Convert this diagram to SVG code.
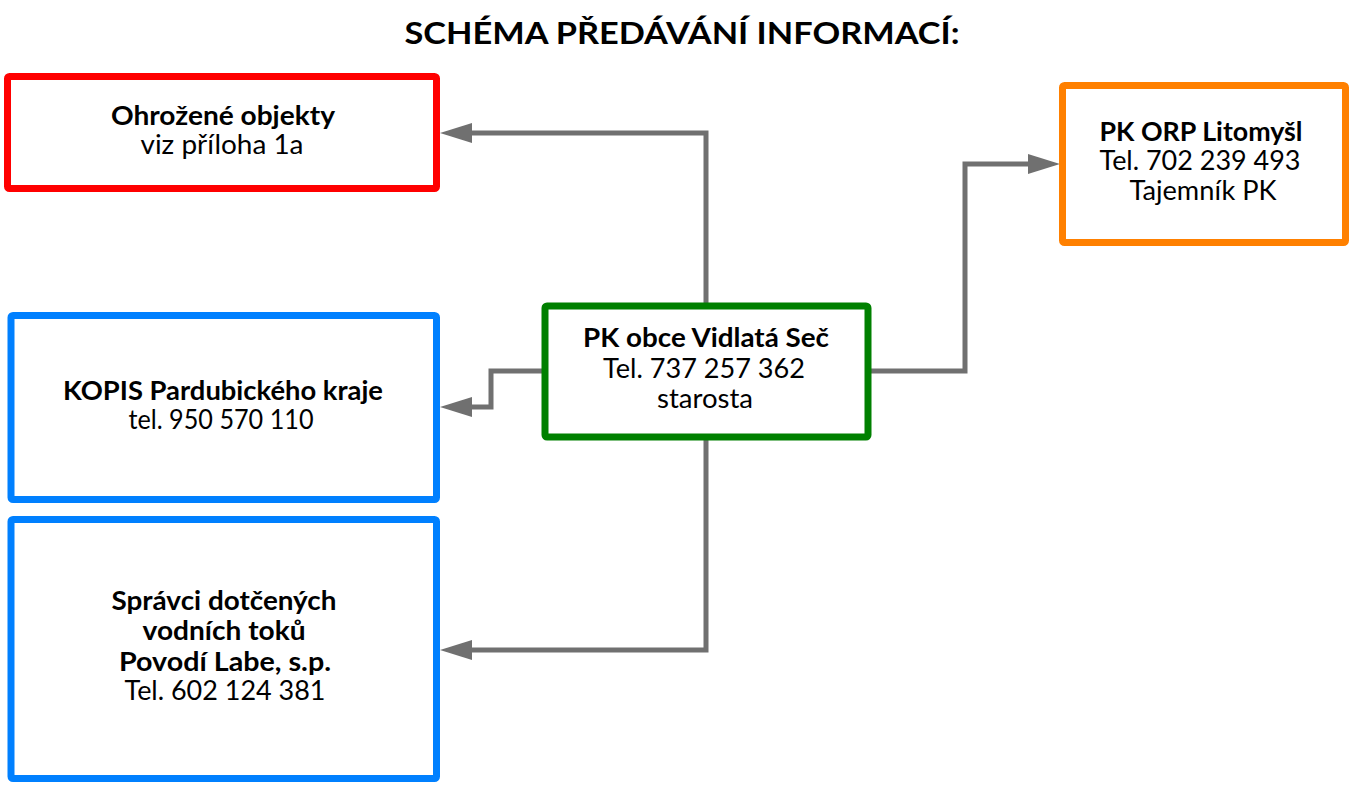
<svg xmlns="http://www.w3.org/2000/svg" width="1360" height="787" viewBox="0 0 1360 787">
<style>
.box{fill:#ffffff;stroke-width:7;stroke-linejoin:round}
.t{font-family:Lato,"Liberation Sans",sans-serif;font-size:26px;fill:#000000;text-anchor:middle}
.b{font-weight:bold}
.title{font-family:Lato,"Liberation Sans",sans-serif;font-size:31px;font-weight:bold;fill:#000000;text-anchor:middle}
.c{fill:none;stroke:#707070;stroke-width:5;stroke-linejoin:miter}
</style>
<defs>
<marker id="arr" viewBox="0 0 32 20" refX="4" refY="10" markerWidth="32" markerHeight="20" markerUnits="userSpaceOnUse" orient="auto">
<path d="M0,0 L32,10 L0,20 z" fill="#707070"/>
</marker>
</defs>
<rect width="1360" height="787" fill="#ffffff"/>
<text class="title" x="682" y="44" textLength="555" lengthAdjust="spacingAndGlyphs">SCHÉMA PŘEDÁVÁNÍ INFORMACÍ:</text>
<g id="connectors">
<path class="c" d="M706,303 V133 H468" marker-end="url(#arr)"/>
<path class="c" d="M542,371 H491 V407 H468" marker-end="url(#arr)"/>
<path class="c" d="M871,371 H965 V164 H1032" marker-end="url(#arr)"/>
<path class="c" d="M706,440 V650 H468" marker-end="url(#arr)"/>
</g>
<g id="ohrozene">
<rect class="box" x="7.5" y="76.5" width="429" height="112" rx="2" stroke="#ff0000"/>
<text class="t b" x="223" y="125" textLength="224" lengthAdjust="spacingAndGlyphs">Ohrožené objekty</text>
<text class="t" x="222" y="154" textLength="163" lengthAdjust="spacingAndGlyphs">viz příloha 1a</text>
</g>
<g id="orp">
<rect class="box" x="1062.5" y="85.5" width="283" height="157" rx="2" stroke="#ff8000"/>
<text class="t b" x="1201" y="141" textLength="203" lengthAdjust="spacingAndGlyphs">PK ORP Litomyšl</text>
<text class="t" x="1200" y="170" textLength="201" lengthAdjust="spacingAndGlyphs">Tel. 702 239 493</text>
<text class="t" x="1203" y="200" textLength="147" lengthAdjust="spacingAndGlyphs">Tajemník PK</text>
</g>
<g id="kopis">
<rect class="box" x="11" y="315.5" width="425.5" height="184" rx="2" stroke="#0080ff"/>
<text class="t b" x="223" y="400" textLength="320" lengthAdjust="spacingAndGlyphs">KOPIS Pardubického kraje</text>
<text class="t" x="221" y="429" textLength="185" lengthAdjust="spacingAndGlyphs">tel. 950 570 110</text>
</g>
<g id="povodi">
<rect class="box" x="11" y="519.5" width="425.5" height="259" rx="2" stroke="#0080ff"/>
<text class="t b" x="224" y="610" textLength="225" lengthAdjust="spacingAndGlyphs">Správci dotčených</text>
<text class="t b" x="224" y="640" textLength="163" lengthAdjust="spacingAndGlyphs">vodních toků</text>
<text class="t b" x="225" y="671" textLength="212" lengthAdjust="spacingAndGlyphs">Povodí Labe, s.p.</text>
<text class="t" x="225" y="700" textLength="201" lengthAdjust="spacingAndGlyphs">Tel. 602 124 381</text>
</g>
<g id="obec">
<rect class="box" x="545" y="306" width="323" height="131" rx="2" stroke="#008000"/>
<text class="t b" x="706" y="347" textLength="246" lengthAdjust="spacingAndGlyphs">PK obce Vidlatá Seč</text>
<text class="t" x="704" y="378" textLength="202" lengthAdjust="spacingAndGlyphs">Tel. 737 257 362</text>
<text class="t" x="705" y="408" textLength="96" lengthAdjust="spacingAndGlyphs">starosta</text>
</g>
</svg>
